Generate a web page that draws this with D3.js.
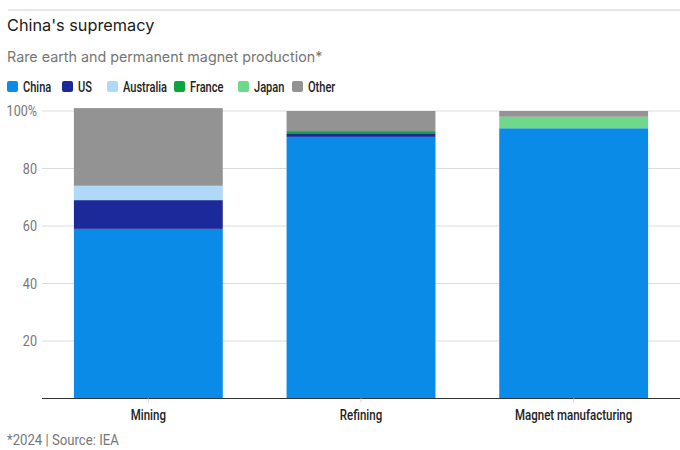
<!DOCTYPE html>
<html>
<head>
<meta charset="utf-8">
<script src="https://cdn.jsdelivr.net/npm/d3@7"></script>
<style>
  body { margin: 0; background: #fff; }
  svg { display: block; }
</style>
</head>
<body>
<div id="chart"></div>
<script>
const width = 680, height = 450;

// data
const stages = ["Mining", "Refining", "Magnet manufacturing"];
const countries = ["China", "US", "Australia", "France", "Japan", "Other"];
const china = [59, 91, 94];
const us = [10, 1, 0];
const australia = [5, 0, 0];
const france = [0, 1, 0];
const japan = [0, 0, 4];
const other = [27, 7, 2];
const yTicks = [0, 20, 40, 60, 80, 100];
const colors = ["#0a8be8", "#1c2a99", "#b0d9f7", "#0ca540", "#6ed98a", "#939393"];

const series = [china, us, australia, france, japan, other];
const rows = stages.map((s, i) => {
  const r = {stage: s};
  countries.forEach((c, j) => r[c] = series[j][i]);
  return r;
});

// no condensed face installed, so squeeze Roboto horizontally
const narrow = "Roboto, 'Liberation Sans', sans-serif";
const sans = "Inter, Roboto, 'Noto Sans', sans-serif";
const squeeze = 0.79;

const svg = d3.select("#chart").append("svg")
  .attr("width", width).attr("height", height);

// top rule
svg.append("line")
  .attr("x1", 8).attr("x2", width).attr("y1", 10).attr("y2", 10)
  .attr("stroke", "#cfcfcf").attr("stroke-width", 1);

svg.append("text")
  .attr("x", 7).attr("y", 31)
  .attr("font-family", sans).attr("font-size", 16.3).attr("fill", "#1a1a1a")
  .text("China's supremacy");

svg.append("text")
  .attr("x", 7).attr("y", 62)
  .attr("font-family", sans).attr("font-size", 14.3).attr("fill", "#767676")
  .text("Rare earth and permanent magnet production*");

// legend
const legendX = [7, 62, 107, 174, 238, 292];
const legend = svg.append("g").selectAll("g").data(countries).enter().append("g")
  .attr("transform", (d, i) => `translate(${legendX[i]}, 81)`);
legend.append("rect")
  .attr("width", 11).attr("height", 11).attr("rx", 2)
  .attr("fill", (d, i) => colors[i]);
legend.append("text")
  .attr("transform", `translate(16, 10.5) scale(${squeeze}, 1)`)
  .attr("font-family", narrow).attr("font-size", 14).attr("font-weight", 500).attr("fill", "#222")
  .text(d => d);

const x = d3.scaleBand().domain(stages).range([42, 680]).paddingInner(0.3).paddingOuter(0.15);
const y = d3.scaleLinear().domain([0, 100]).range([398.5, 111]);

// grid + y labels
const grid = svg.append("g");
grid.selectAll("line").data(yTicks.filter(d => d > 0)).enter().append("line")
  .attr("x1", 42).attr("x2", 680)
  .attr("y1", d => y(d)).attr("y2", d => y(d))
  .attr("stroke", "#dcdcdc");
grid.selectAll("text").data(yTicks.filter(d => d > 0)).enter().append("text")
  .attr("transform", d => `translate(37, ${y(d) + 5}) scale(0.9, 1)`)
  .attr("text-anchor", "end")
  .attr("font-family", narrow).attr("font-size", 14).attr("fill", "#777")
  .text(d => d === 100 ? "100%" : d);

// stacked bars
const stack = d3.stack().keys(countries)(rows);
svg.append("g").selectAll("g").data(stack).enter().append("g")
  .attr("fill", (d, i) => colors[i])
  .selectAll("rect").data(d => d).enter().append("rect")
  .attr("x", d => x(d.data.stage))
  .attr("width", x.bandwidth())
  .attr("y", d => y(d[1]))
  .attr("height", d => y(d[0]) - y(d[1]));

// x axis
const xAxis = svg.append("g")
  .attr("transform", `translate(0, ${y(0)})`)
  .call(d3.axisBottom(x).tickSize(4).tickSizeOuter(0).tickPadding(8));
xAxis.select(".domain").attr("stroke", "#333").attr("d", "M42,0H680");
xAxis.selectAll(".tick line").attr("stroke", "#d6d6d6");
xAxis.selectAll(".tick text")
  .attr("transform", "scale(0.82, 1)")
  .attr("font-family", narrow).attr("font-size", 14).attr("font-weight", 500).attr("fill", "#222");

svg.append("text")
  .attr("transform", "translate(7, 445) scale(0.94, 1)")
  .attr("font-family", narrow).attr("font-size", 14).attr("fill", "#777")
  .text("*2024 | Source: IEA");
</script>
</body>
</html>
